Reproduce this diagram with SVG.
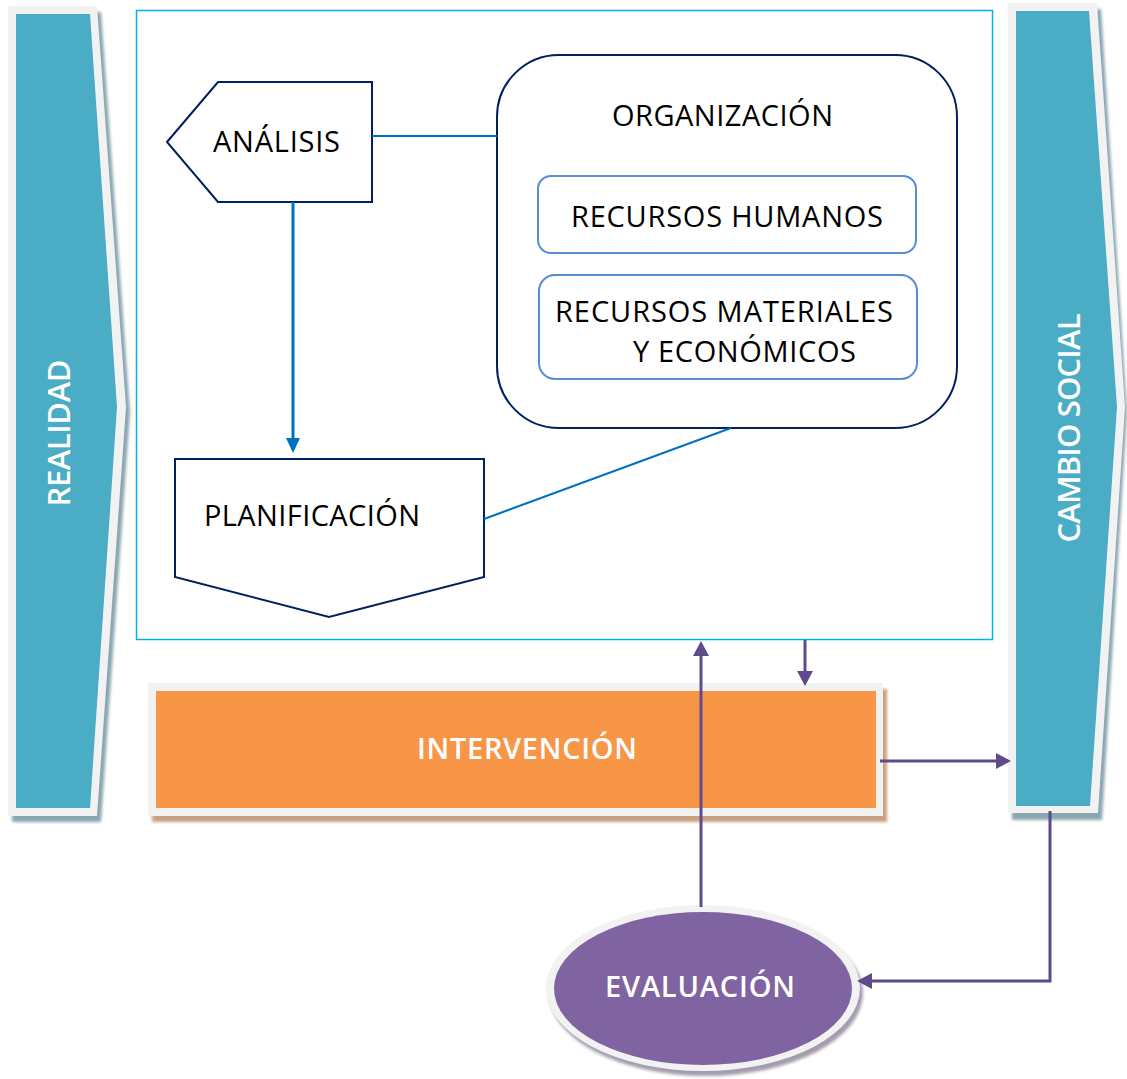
<svg xmlns="http://www.w3.org/2000/svg" width="1127" height="1079" viewBox="0 0 1127 1079">
<style>
.txt{font-family:"Open Sans","Noto Sans","DejaVu Sans",sans-serif;font-size:29px;fill:#000}
.wt{font-family:"Open Sans","Noto Sans","DejaVu Sans",sans-serif;font-size:29px;font-weight:600;fill:#fff}
.side{font-family:"Open Sans","Noto Sans","DejaVu Sans",sans-serif;font-size:31px;font-weight:600;fill:#fff}
.navy{fill:#fff;stroke:#002060;stroke-width:2}
.sub{fill:#fff;stroke:#558ed5;stroke-width:2}
.teal{fill:#4bacc6}
.ring{fill:#f2f2f2}
.blue{fill:none;stroke:#0070c0}
.purp{fill:none;stroke:#5f4b8b;stroke-width:3}
</style>
<defs>
<filter id="blur" x="-10%" y="-10%" width="120%" height="120%"><feGaussianBlur stdDeviation="1.5"/></filter>
<marker id="ap" markerUnits="userSpaceOnUse" viewBox="0 0 15 16" markerWidth="15" markerHeight="16" refX="12" refY="8" orient="auto"><path d="M0,0 L15,8 L0,16 z" fill="#5f4b8b"/></marker>
<marker id="ab" markerUnits="userSpaceOnUse" viewBox="0 0 15 14" markerWidth="15" markerHeight="14" refX="12" refY="7" orient="auto"><path d="M0,0 L15,7 L0,14 z" fill="#0070c0"/></marker>
</defs>
<rect width="1127" height="1079" fill="#fff"/>

<g id="realidad">
<polygon points="12,12 101,12 130,412 101,822 12,822" fill="#8aa6b0" filter="url(#blur)"/>
<polygon class="ring" points="8,6 97,6 126,407 97,816 8,816"/>
<polygon class="teal" points="16,14 90,14 117,407 90,808 16,808"/>
<text class="side" transform="translate(70,433) rotate(-90)" text-anchor="middle" textLength="147" lengthAdjust="spacing">REALIDAD</text>
</g>

<g id="cambio-social">
<polygon points="1012,9 1101,9 1127,412 1102,820 1012,820" fill="#8aa6b0" filter="url(#blur)"/>
<polygon class="ring" points="1008,3 1097,3 1125,407 1098,813 1008,813"/>
<polygon class="teal" points="1016,11 1089,11 1117,407 1090,806 1016,806"/>
<text class="side" transform="translate(1080,428) rotate(-90)" text-anchor="middle" textLength="229" lengthAdjust="spacing">CAMBIO SOCIAL</text>
</g>

<g id="marco">
<rect x="136.5" y="10.5" width="856" height="629" fill="#fff" stroke="#00b0f0" stroke-width="1.5"/>
</g>

<g id="analisis">
<polygon class="navy" points="167,142 218,82 372,82 372,202 218,202"/>
<text class="txt" x="276.5" y="152" text-anchor="middle" textLength="127" lengthAdjust="spacing">ANÁLISIS</text>
</g>

<g id="organizacion">
<rect class="navy" x="497" y="55" width="460" height="373" rx="62" ry="62"/>
<text class="txt" x="722.5" y="126" text-anchor="middle" textLength="221" lengthAdjust="spacing">ORGANIZACIÓN</text>
</g>

<g id="recursos-humanos">
<rect class="sub" x="538" y="176" width="378" height="77" rx="13" ry="13"/>
<text class="txt" x="727" y="227" text-anchor="middle" textLength="312" lengthAdjust="spacing">RECURSOS HUMANOS</text>
</g>

<g id="recursos-materiales">
<rect class="sub" x="539" y="275" width="378" height="104" rx="16" ry="16"/>
<text class="txt" x="555" y="322" textLength="338" lengthAdjust="spacing">RECURSOS MATERIALES</text>
<text class="txt" x="633" y="362" textLength="223" lengthAdjust="spacing">Y ECONÓMICOS</text>
</g>

<g id="planificacion">
<polygon class="navy" points="175,459 484,459 484,577 329,617 175,577"/>
<text class="txt" x="204" y="526" textLength="216" lengthAdjust="spacing">PLANIFICACIÓN</text>
</g>

<g id="intervencion">
<rect x="152" y="689" width="735" height="133" fill="#c9a07f" filter="url(#blur)"/>
<rect class="ring" x="148" y="683" width="735" height="133"/>
<rect x="156" y="691" width="720" height="117" fill="#f79646"/>
<text class="wt" x="527" y="759" text-anchor="middle" textLength="220" lengthAdjust="spacing">INTERVENCIÓN</text>
</g>

<g id="evaluacion">
<ellipse cx="706" cy="993" rx="157" ry="83" fill="#a49cad" filter="url(#blur)"/>
<ellipse class="ring" cx="703" cy="988" rx="157" ry="83"/>
<ellipse cx="703" cy="988.5" rx="149" ry="76.5" fill="#8064a2"/>
<text class="wt" x="700" y="997" text-anchor="middle" textLength="190" lengthAdjust="spacing">EVALUACIÓN</text>
</g>

<g id="connectors">
<line class="blue" x1="372" y1="136" x2="497" y2="136" stroke-width="1.8"/>
<line class="blue" x1="293" y1="202" x2="293" y2="450" stroke-width="3" marker-end="url(#ab)"/>
<line class="blue" x1="484" y1="519" x2="731" y2="428" stroke-width="2"/>
<path class="purp" d="M805,640 V683" marker-end="url(#ap)"/>
<path class="purp" d="M701,907 V644" marker-end="url(#ap)"/>
<path class="purp" d="M880,761 H1008" marker-end="url(#ap)"/>
<path class="purp" d="M1050,811 V981 H860" marker-end="url(#ap)"/>
</g>
</svg>
